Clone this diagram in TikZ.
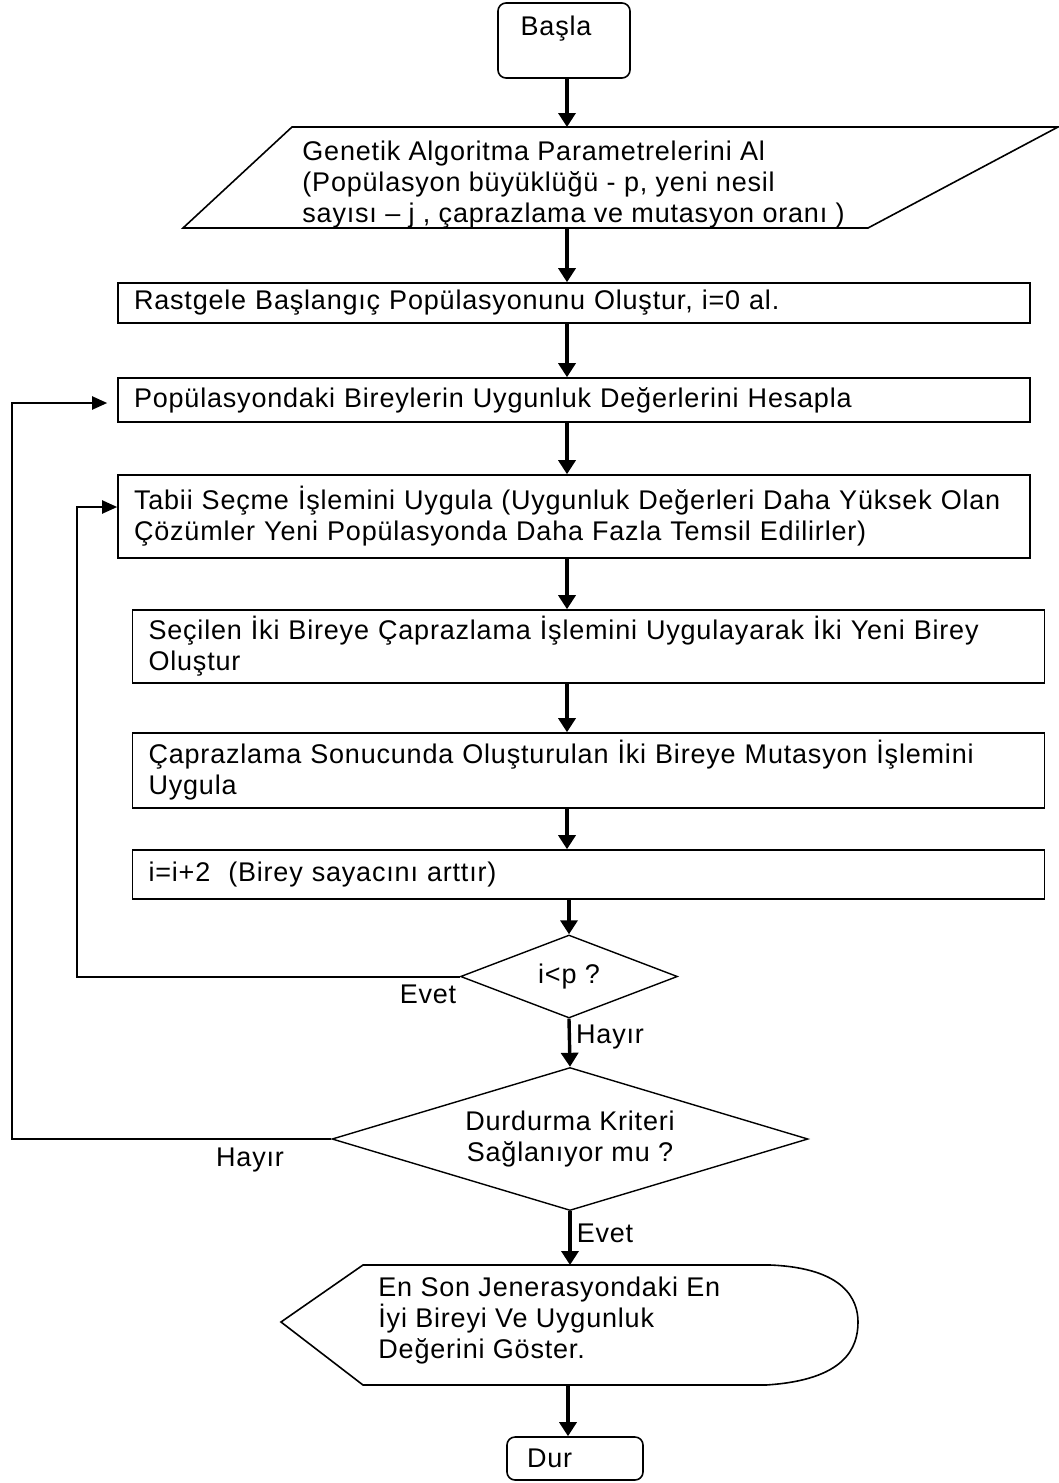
\documentclass[tikz,border=0pt]{standalone}
\usepackage{fontspec}
\setmainfont{Liberation Sans}[LetterSpace=3]
\usetikzlibrary{arrows.meta,shapes.geometric}

\tikzset{
  every node/.style={font=\fontsize{13.5}{15.5}\selectfont},
  process/.style={draw, line width=0.8pt, align=left, inner xsep=8pt, inner ysep=0pt,
                  text width=440pt, minimum width=456pt},
  decision/.style={draw, diamond, line width=0.7pt, inner sep=0pt, align=center},
  terminal/.style={draw, rounded corners=4pt, line width=0.8pt},
  outline/.style={line width=0.8pt},
  flow/.style={line width=1.7pt, -{Triangle[length=7pt,width=8.5pt]}},
  back/.style={line width=1pt, -{Triangle[length=7.5pt,width=6.5pt]}},
  tag/.style={inner sep=0pt}
}

\begin{document}
\begin{tikzpicture}[x=0.5pt,y=-0.5pt]
  \fill[white] (0,0) rectangle (1059,1483);
  \useasboundingbox (0,0) rectangle (1059,1483);

  % start
  \node[terminal, minimum width=66pt, minimum height=37.5pt] (basla) at (564,40.5) {};
  \node[tag] (baslatxt) at (556,29) {Başla};

  % input parameters (slanted box)
  \draw[outline] (292,127) -- (1058,127) -- (868,228) -- (183,228) -- cycle;
  \coordinate (ptop) at (567,127);
  \coordinate (pbot) at (567,228);
  \node[tag, anchor=west, align=left] (params) at (302,185)
    {Genetik Algoritma Parametrelerini Al\\(Popülasyon büyüklüğü - p, yeni nesil\\sayısı – j , çaprazlama ve mutasyon oranı )};

  % process steps
  \node[process, minimum height=20pt] (rastgele) at (574,303)
    {Rastgele Başlangıç Popülasyonunu Oluştur, i=0 al.};
  \node[process, minimum height=22pt] (uygun) at (574,400)
    {Popülasyondaki Bireylerin Uygunluk Değerlerini Hesapla};
  \node[process, minimum height=41.5pt] (secim) at (574,516.5)
    {Tabii Seçme İşlemini Uygula (Uygunluk Değerleri Daha Yüksek Olan\\Çözümler Yeni Popülasyonda Daha Fazla Temsil Edilirler)};
  \node[process, minimum height=36.5pt] (capraz) at (588.5,646.5)
    {Seçilen İki Bireye Çaprazlama İşlemini Uygulayarak İki Yeni Birey\\Oluştur};
  \node[process, minimum height=37.5pt] (mutasyon) at (588.5,770.5)
    {Çaprazlama Sonucunda Oluşturulan İki Bireye Mutasyon İşlemini\\Uygula};
  \node[process, minimum height=24.5pt] (sayac) at (588.5,874.5)
    {i=i+2\ \ (Birey sayacını arttır)};

  % decisions
  \node[decision, aspect=2.6, minimum width=108.5pt, minimum height=41.5pt] (d1) at (569,976.5) {i<p ?};
  \node[decision, aspect=3.33, minimum width=238pt, minimum height=71.5pt] (d2) at (570,1139)
    {Durdurma Kriteri\\Sağlanıyor mu ?};

  % display result
  \draw[outline] (281,1322) -- (363,1265) -- (770,1265)
    .. controls (845,1268) and (858,1300) .. (858,1322)
    .. controls (858,1348) and (845,1380) .. (766,1385)
    -- (363,1385) -- cycle;
  \coordinate (showtop) at (570,1265);
  \coordinate (showbot) at (568,1385);
  \node[tag, anchor=west, align=left] (show) at (378,1321)
    {En Son Jenerasyondaki En\\İyi Bireyi Ve Uygunluk\\Değerini Göster.};

  % stop
  \node[terminal, minimum width=68pt, minimum height=21.5pt, align=left,
        text width=48pt, inner xsep=10pt, inner ysep=0pt] (dur) at (575,1458.5) {Dur};

  % main flow
  \coordinate (spine) at (567,0);
  \draw[flow] (basla.south -| spine) -- (ptop);
  \draw[flow] (pbot) -- (rastgele.north -| spine);
  \draw[flow] (rastgele.south -| spine) -- (uygun.north -| spine);
  \draw[flow] (uygun.south -| spine) -- (secim.north -| spine);
  \draw[flow] (secim.south -| spine) -- (capraz.north -| spine);
  \draw[flow] (capraz.south -| spine) -- (mutasyon.north -| spine);
  \draw[flow] (mutasyon.south -| spine) -- (sayac.north -| spine);
  \draw[flow] (sayac.south -| d1.north) -- (d1.north);
  \draw[flow] (d1.south) -- (d2.north);
  \draw[flow] (d2.south) -- (showtop);
  \draw[flow] (showbot) -- (dur.north -| showbot);

  % loops back
  \coordinate (loopA) at (77,507);
  \coordinate (loopB) at (12,403);
  \draw[back] (d1.west) -| (loopA) -- ([yshift=4.75pt]secim.west);
  \draw[back] (d2.west) -| (loopB) -- ([xshift=-5pt,yshift=-1.5pt]uygun.west);

  % branch labels
  \node[tag] (evet1) at (428,994) {Evet};
  \node[tag] (hayir1) at (610,1037) {Hayır};
  \node[tag] (hayir2) at (250,1160) {Hayır};
  \node[tag] (evet2) at (605,1233) {Evet};
\end{tikzpicture}
\end{document}
